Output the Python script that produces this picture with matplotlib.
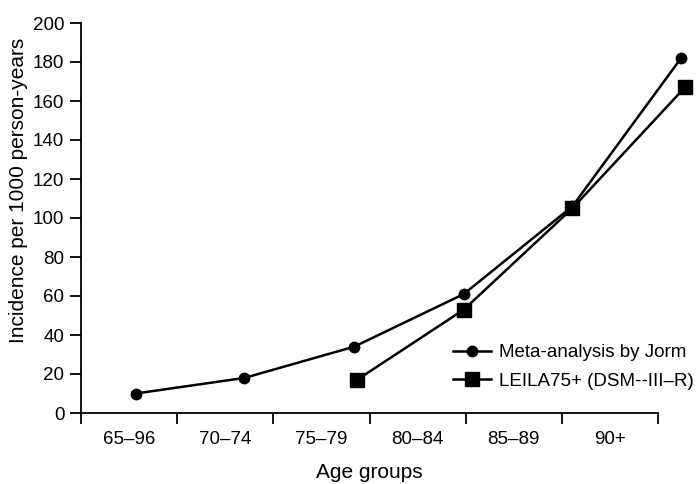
import matplotlib
matplotlib.use('Agg')
import matplotlib.pyplot as plt
import numpy as np

plt.rcParams['font.family'] = ['Liberation Sans', 'DejaVu Sans']

# age group labels sit between the axis ticks
age_groups = ['65\u201396', '70\u201374', '75\u201379', '80\u201384', '85\u201389', '90+']

# point positions along the age axis (in group units) and incidence values
jorm_x = [0.57, 1.70, 2.84, 3.98, 5.11, 6.24]
jorm_y = [10, 18, 34, 61, 106, 182]
leila_x = [2.87, 3.98, 5.11, 6.28]
leila_y = [17, 53, 105, 167]

W, H = 696, 484
fig = plt.figure(figsize=(W / 100, H / 100), dpi=100)
ax = fig.add_axes([81 / W, 71 / H, 1 - 81 / W, 390 / H])

ax.plot(jorm_x, jorm_y, color='black', lw=1.8, marker='o', ms=7.5,
        label='Meta-analysis by Jorm', clip_on=False, zorder=3)
ax.plot(leila_x, leila_y, color='black', lw=1.8, marker='s', ms=10.5,
        label='LEILA75+ (DSM--III\u2013R)', clip_on=False, zorder=3)

ax.set_xlim(0, (W - 81) / 96.17)
ax.set_ylim(0, 200)
ax.spines['top'].set_visible(False)
ax.spines['right'].set_visible(False)
ax.spines['bottom'].set_bounds(0, 6)
for s in ('left', 'bottom'):
    ax.spines[s].set_linewidth(1.3)

ax.set_yticks(np.arange(0, 201, 20))
ax.tick_params(axis='y', direction='out', length=8, width=1.3, labelsize=13.5, pad=4)
ax.set_xticks(np.arange(0, 7))
ax.set_xticklabels([])
ax.tick_params(axis='x', which='major', direction='out', length=8, width=1.3)
ax.set_xticks(np.arange(len(age_groups)) + 0.5, minor=True)
ax.set_xticklabels(age_groups, minor=True)
ax.tick_params(axis='x', which='minor', length=0, labelsize=13.5, pad=13)

fig.text(19 / W, 1 - 190 / H, 'Incidence per 1000 person-years', rotation=90,
         ha='center', va='center', fontsize=15)
fig.text(369 / W, 1 - 473 / H, 'Age groups', ha='center', va='center', fontsize=15)

ax.legend(loc='center left', bbox_to_anchor=(453 / W, 1 - 367 / H),
          bbox_transform=fig.transFigure, frameon=False, fontsize=13.5,
          handlelength=2.0, handletextpad=0.45, labelspacing=0.6,
          borderpad=0, borderaxespad=0)

fig.savefig('out.png', dpi=100)
